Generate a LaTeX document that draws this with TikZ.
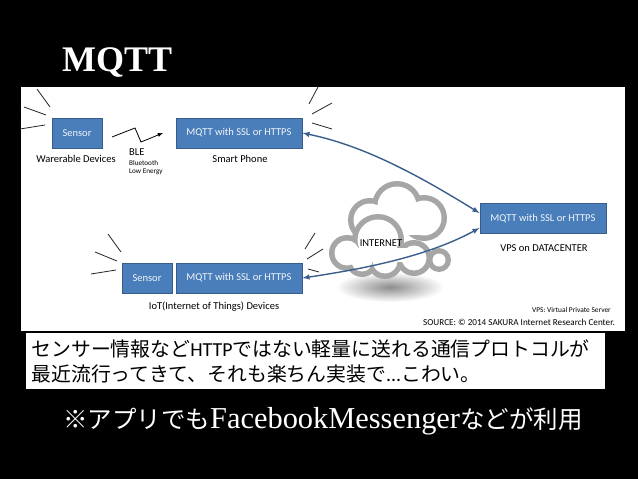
\documentclass[tikz,border=0pt]{standalone}
\usepackage{fontspec}
\setmainfont{Carlito}
\newfontfamily\cjk{Noto Sans CJK JP}
\newfontfamily\titlefont{Liberation Serif}
\definecolor{boxblue}{HTML}{4A7EBB}
\definecolor{boxedge}{HTML}{385D8A}
\definecolor{arrowblue}{HTML}{3A5F8C}
\definecolor{cloudgray}{HTML}{A6A6A6}
\tikzset{
	bluebox/.style={draw=boxedge, fill=boxblue, line width=1pt, text=white!92!boxblue, font=\fontsize{10.5}{12}\selectfont, inner sep=0pt, minimum height=30pt},
	caption/.style={font=\fontsize{10.5}{12}\selectfont, inner sep=0pt},
	ray/.style={line width=0.8pt, color=black!85},
	link/.style={line width=1.4pt, color=arrowblue, <->, >=latex},
	cloudout/.style={fill=cloudgray},
	cloudin/.style={fill=white}
}

\begin{document}
\begin{tikzpicture}[x=1pt, y=-1pt]
		%%%%% START %%%%%
		\useasboundingbox (0, 0) rectangle (638, 479);
		\fill[black] (0, 0) rectangle (638, 479);
		\fill[white] (21, 87) rectangle (625, 331);
		
		\node[anchor=west, inner sep=0pt, text=white] (title) at (62, 62) {\titlefont\bfseries\fontsize{36}{40}\selectfont MQTT};
		
		% shadow and cloud
		\shade[inner color=black!45, outer color=white] (390, 287) ellipse (54 and 15);
		
		\fill[cloudout] (397, 206) circle (25);
		\fill[cloudout] (370, 220) circle (22);
		\fill[cloudout] (424, 218) circle (23);
		\fill[cloudin] (397, 206) circle (19.5);
		\fill[cloudin] (370, 220) circle (16.5);
		\fill[cloudin] (424, 218) circle (17.5);
		\fill[cloudin] (375, 205) rectangle (422, 235);
		
		\fill[cloudout] (347, 253) circle (18);
		\fill[cloudout] (378, 240) circle (26);
		\fill[cloudout] (362, 261) circle (16);
		\fill[cloudout] (385, 261) circle (18);
		\fill[cloudout] (414, 258) circle (18);
		\fill[cloudout] (439, 260) circle (12);
		\fill[cloudin] (347, 253) circle (12.5);
		\fill[cloudin] (378, 240) circle (20.5);
		\fill[cloudin] (362, 261) circle (10.5);
		\fill[cloudin] (385, 261) circle (12.5);
		\fill[cloudin] (414, 258) circle (12.5);
		\fill[cloudin] (439, 260) circle (6.5);
		\fill[cloudin] (352, 248) rectangle (415, 262);
		\node[caption] (internet) at (381, 243) {INTERNET};
		
		% boxes
		\node[bluebox, minimum width=50pt] (sensorA) at (77, 133) {Sensor};
		\node[bluebox, minimum width=126pt] (mqttA) at (239, 133) {MQTT with SSL or HTTPS};
		\node[bluebox, minimum width=126pt] (vps) at (543, 218.5) {MQTT with SSL or HTTPS};
		\node[bluebox, minimum width=50pt] (sensorB) at (147, 278) {Sensor};
		\node[bluebox, minimum width=126pt] (mqttB) at (239, 278) {MQTT with SSL or HTTPS};
		
		% captions
		\node[caption] (wearable) at (76, 159) {Warerable Devices};
		\node[caption] (phone) at (240, 159) {Smart Phone};
		\node[caption] (datacenter) at (544, 248) {VPS on DATACENTER};
		\node[caption] (iot) at (214, 307) {IoT(Internet of Things) Devices};
		\node[caption, anchor=west] (ble) at (129, 152) {BLE};
		\node[caption, anchor=west, font=\fontsize{7.2}{8}\selectfont] (bluetooth) at (129, 163) {Bluetooth};
		\node[caption, anchor=west, font=\fontsize{7.2}{8}\selectfont] (energy) at (129, 172) {Low Energy};
		\node[caption, anchor=east, font=\fontsize{7.4}{8}\selectfont] (vpsnote) at (611, 310) {VPS: Virtual Private Server};
		\node[caption, anchor=east, font=\fontsize{9.15}{10}\selectfont] (source) at (615, 322) {SOURCE: © 2014 SAKURA Internet Research Center.};
		
		% rays
		\draw[ray] (37, 89) -- (50, 107);
		\draw[ray] (24, 107) -- (46, 115);
		\draw[ray] (20, 129) -- (45, 125);
		\draw[ray] (318, 87) -- (309, 104);
		\draw[ray] (332, 103) -- (312, 114);
		\draw[ray] (312, 123) -- (332, 129);
		\draw[ray] (108, 234) -- (121, 252);
		\draw[ray] (95, 252) -- (117, 261);
		\draw[ray] (91, 274) -- (116, 270);
		\draw[ray] (315, 233) -- (305, 249);
		\draw[ray] (323, 249) -- (307, 259);
		\draw[ray] (308, 269) -- (319, 272);
		
		% BLE zigzag
		\draw[line width=0.8pt, -latex] (112, 137) -- (135, 128) -- (141, 142) -- (163, 133);
		
		% links
		\draw[link] (mqttA.east) .. controls (360, 145) and (410, 170) .. ([yshift=5.5pt]vps.west);
		\draw[link] (mqttB.east) .. controls (370, 268) and (430, 255) .. ([yshift=-9.5pt]vps.west);
		
		% note box
		\node[draw=black, fill=white, line width=1pt, anchor=north west, minimum width=580pt, minimum height=57pt, inner xsep=6.5pt, inner ysep=0pt, align=left, text width=567pt, font=\cjk\fontsize{19.85}{25}\selectfont] (note) at (24.5, 332) {センサー情報など{\rmfamily HTTP}ではない軽量に送れる通信プロトコルが\\最近流行ってきて、それも楽ちん実装で{\rmfamily ...}こわい。};
		
		\node[anchor=west, inner sep=0pt, text=white] (appnote) at (63, 421) {\fontsize{24.5}{30}\selectfont\cjk ※アプリでも\fontsize{30.4}{30}\selectfont\titlefont FacebookMessenger\fontsize{24.5}{30}\selectfont\cjk などが利用};
		%%%%% END %%%%%
	\end{tikzpicture}
\end{document}
